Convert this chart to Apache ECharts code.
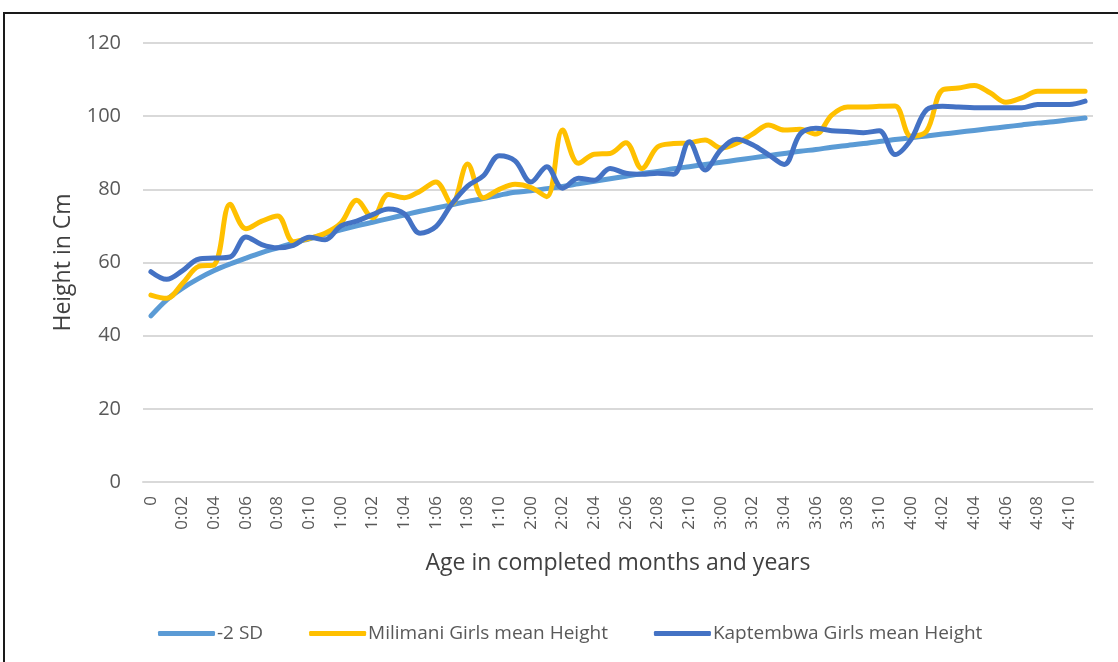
<!DOCTYPE html>
<html>
<head>
<meta charset="utf-8">
<script src="https://cdn.jsdelivr.net/npm/echarts@6/dist/echarts.min.js"></script>
<style>
html,body{margin:0;padding:0;background:#fff;}
#chart{width:1118px;height:662px;}
</style>
</head>
<body>
<div id="chart"></div>
<script>
const categories = (function(){
  const out = ['0'];
  for (let m = 1; m < 60; m++) {
    const y = Math.floor(m / 12), mo = m % 12;
    out.push(y + ':' + (mo < 10 ? '0' : '') + mo);
  }
  return out;
})();

const minus2SD = [45.4, 49.8, 53.0, 55.6, 57.8, 59.6, 61.2, 62.7, 64.0, 65.3, 66.5, 67.7,
  68.9, 70.0, 71.0, 72.0, 73.0, 74.0, 74.9, 75.8, 76.7, 77.5, 78.4, 79.2,
  79.6, 80.2, 80.8, 81.5, 82.2, 82.9, 83.6, 84.3, 84.9, 85.6, 86.2, 86.8,
  87.4, 88.0, 88.6, 89.2, 89.8, 90.4, 90.9, 91.5, 92.0, 92.5, 93.1, 93.6,
  94.1, 94.6, 95.1, 95.6, 96.1, 96.6, 97.1, 97.6, 98.1, 98.5, 99.0, 99.5];

const milimani = [51.1, 50.2, 54.3, 58.9, 59.4, 75.9, 69.2, 71.3, 72.7, 65.7, 66.6, 68.0,
  70.8, 77.0, 72.2, 78.6, 77.7, 79.5, 82.0, 76.0, 86.9, 77.7, 80.0, 81.4,
  80.5, 78.0, 96.2, 87.1, 89.6, 89.8, 92.7, 85.7, 91.6, 92.5, 92.7, 93.5,
  91.3, 92.6, 95.1, 97.6, 96.2, 96.4, 95.1, 100.3, 102.5, 102.5, 102.7, 102.8,
  94.5, 96.0, 107.2, 107.7, 108.4, 106.4, 103.8, 105.0, 106.8, 106.8, 106.8, 106.8];

const kaptembwa = [57.5, 55.4, 57.8, 60.9, 61.2, 61.5, 67.0, 64.9, 64.0, 64.7, 66.9, 66.2,
  70.0, 71.3, 73.1, 74.6, 73.3, 68.0, 69.8, 76.0, 80.9, 83.7, 89.2, 87.8,
  82.0, 86.2, 80.3, 83.0, 82.5, 85.7, 84.4, 84.1, 84.4, 84.1, 93.0, 85.3,
  90.8, 93.7, 92.2, 89.5, 86.8, 95.1, 96.7, 96.0, 95.8, 95.5, 96.0, 89.5,
  93.6, 101.8, 102.7, 102.5, 102.3, 102.3, 102.3, 102.3, 103.2, 103.2, 103.2, 104.1];

const seriesNames = ['-2 SD', 'Milimani Girls mean Height', 'Kaptembwa Girls mean Height'];
const seriesColors = ['#5B9BD5', '#FFC000', '#4472C4'];
const seriesData = [minus2SD, milimani, kaptembwa];

const FONT = '"Open Sans", "Noto Sans", sans-serif';
const chart = echarts.init(document.getElementById('chart'));
chart.setOption({
  animation: false,
  backgroundColor: '#fff',
  textStyle: { fontFamily: FONT },
  graphic: [{
    type: 'rect',
    shape: { x: 4, y: 13, width: 1200, height: 700 },
    style: { fill: 'none', stroke: '#1a1a1a', lineWidth: 2 },
    silent: true,
    z: 100
  }],
  grid: { left: 143, right: 25, top: 43, bottom: 180, containLabel: false },
  legend: {
    data: seriesNames,
    left: 153,
    top: 619,
    itemWidth: 57,
    itemHeight: 5,
    itemGap: 46,
    icon: 'roundRect',
    textStyle: { fontSize: 19, color: '#595959', fontFamily: FONT, padding: [0, 0, 0, -3] }
  },
  xAxis: {
    type: 'category',
    data: categories,
    boundaryGap: true,
    name: 'Age in completed months and years',
    nameLocation: 'middle',
    nameGap: 70,
    nameTextStyle: { fontSize: 23, color: '#404040', fontFamily: FONT },
    axisLine: { show: true, lineStyle: { color: '#d9d9d9', width: 2 } },
    axisTick: { show: false },
    axisLabel: { interval: 1, rotate: 90, fontSize: 17, color: '#595959', margin: 14, fontFamily: FONT }
  },
  yAxis: {
    type: 'value',
    min: 0,
    max: 120,
    interval: 20,
    name: 'Height in Cm',
    nameLocation: 'middle',
    nameGap: 68,
    nameTextStyle: { fontSize: 23, color: '#404040', fontFamily: FONT },
    axisLine: { show: false },
    axisTick: { show: false },
    axisLabel: { fontSize: 20, color: '#595959', margin: 22, fontFamily: FONT },
    splitLine: { lineStyle: { color: '#d9d9d9', width: 2 } }
  },
  series: seriesNames.map((n, k) => ({
    name: n,
    type: 'line',
    data: seriesData[k],
    smooth: 0.35,
    showSymbol: false,
    symbol: 'none',
    lineStyle: { color: seriesColors[k], width: 5, cap: 'round', join: 'round' },
    itemStyle: { color: seriesColors[k] },
    z: 2 + k
  }))
});
</script>
</body>
</html>
